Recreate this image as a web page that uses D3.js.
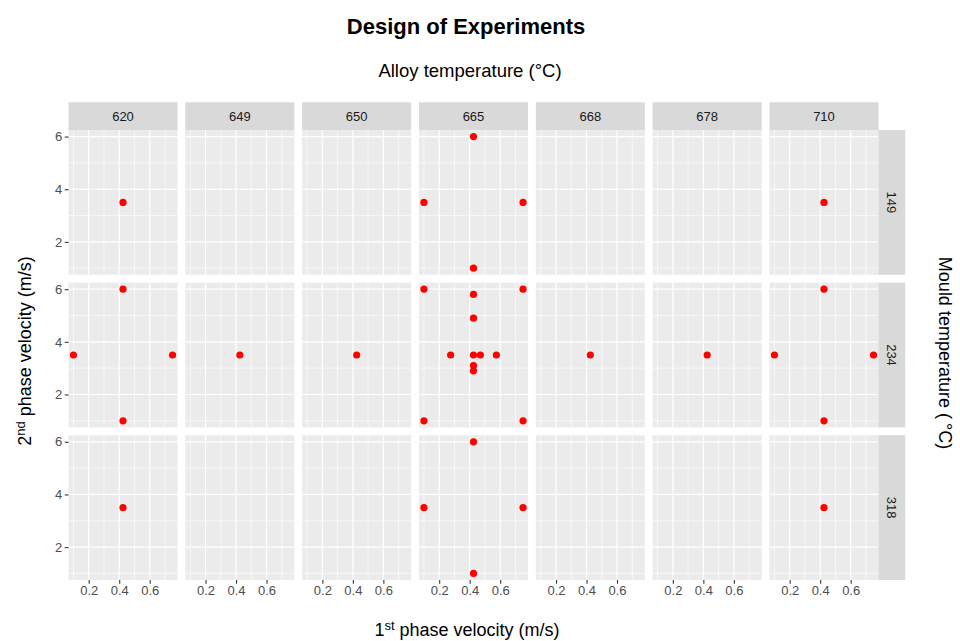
<!DOCTYPE html>
<html>
<head>
<meta charset="utf-8">
<script src="https://cdn.jsdelivr.net/npm/d3@7"></script>
<style>
  html, body { margin: 0; padding: 0; background: #fff; }
  svg { display: block; font-family: "Liberation Sans", Arial, sans-serif; }
</style>
</head>
<body>
<svg id="chart" width="960" height="641"></svg>
<script>
// ---- data ----
const alloyTemps = [620, 649, 650, 665, 668, 678, 710];
const mouldTemps = [149, 234, 318];
const xTicks = [0.2, 0.4, 0.6];
const yTicks = [2, 4, 6];
const xMinor = [0.1, 0.3, 0.5, 0.7];
const yMinor = [1, 3, 5];
// each run: alloy temp, mould temp, 1st phase velocity, 2nd phase velocity
const runAlloy = [620, 620,620,620,620, 620, 649, 650,
                  665,665,665,665,
                  665,665,665,665,665,665,665,665,665,665,665,665,
                  665,665,665,665,
                  668, 678, 710, 710,710,710,710, 710];
const runMould = [149, 234,234,234,234, 318, 234, 234,
                  149,149,149,149,
                  234,234,234,234,234,234,234,234,234,234,234,234,
                  318,318,318,318,
                  234, 234, 149, 234,234,234,234, 318];
const runV1 = [0.425, 0.425,0.1,0.75,0.425, 0.425, 0.425, 0.425,
               0.425,0.1,0.75,0.425,
               0.1,0.75,0.425,0.425,0.275,0.425,0.47,0.575,0.425,0.425,0.1,0.75,
               0.425,0.1,0.75,0.425,
               0.425, 0.425, 0.425, 0.425,0.1,0.75,0.425, 0.425];
const runV2 = [3.5, 6,3.5,3.5,1, 3.5, 3.5, 3.5,
               6,3.5,3.5,1,
               6,6,5.8,4.9,3.5,3.5,3.5,3.5,3.1,2.9,1,1,
               6,3.5,3.5,1,
               3.5, 3.5, 3.5, 6,3.5,3.5,1, 3.5];

const runs = runAlloy.map((a, i) => ({a, m: runMould[i], v1: runV1[i], v2: runV2[i]}));

// ---- layout ----
const svg = d3.select("#chart");
const col = d3.scaleBand().domain(alloyTemps).range([68.5, 878.5]).paddingInner(0.0668).paddingOuter(0);
const row = d3.scaleBand().domain(mouldTemps).range([130, 580]).paddingInner(0.0511).paddingOuter(0);
const pw = col.bandwidth(), ph = row.bandwidth();
const stripH = 27.7, stripW = 26.7;

const xDom = [0.1, 0.75], yDom = [1, 6];
const xe = (xDom[1] - xDom[0]) * 0.05, ye = (yDom[1] - yDom[0]) * 0.05;
const x = d3.scaleLinear().domain([xDom[0] - xe, xDom[1] + xe]).range([0, pw]);
const y = d3.scaleLinear().domain([yDom[0] - ye, yDom[1] + ye]).range([ph, 0]);

const textCol = "#1A1A1A", tickCol = "#4D4D4D";

// panels
alloyTemps.forEach(a => {
  mouldTemps.forEach(m => {
    const g = svg.append("g").attr("transform", `translate(${col(a)},${row(m)})`);
    g.append("rect").attr("width", pw).attr("height", ph).attr("fill", "#EBEBEB");
    g.selectAll(".ymin").data(yMinor).enter().append("line")
      .attr("x1", 0).attr("x2", pw).attr("y1", d => y(d)).attr("y2", d => y(d))
      .attr("stroke", "#fff").attr("stroke-width", 0.6);
    g.selectAll(".xmin").data(xMinor).enter().append("line")
      .attr("y1", 0).attr("y2", ph).attr("x1", d => x(d)).attr("x2", d => x(d))
      .attr("stroke", "#fff").attr("stroke-width", 0.6);
    g.selectAll(".ymaj").data(yTicks).enter().append("line")
      .attr("x1", 0).attr("x2", pw).attr("y1", d => y(d)).attr("y2", d => y(d))
      .attr("stroke", "#fff").attr("stroke-width", 1.2);
    g.selectAll(".xmaj").data(xTicks).enter().append("line")
      .attr("y1", 0).attr("y2", ph).attr("x1", d => x(d)).attr("x2", d => x(d))
      .attr("stroke", "#fff").attr("stroke-width", 1.2);
    g.selectAll("circle").data(runs.filter(r => r.a === a && r.m === m)).enter().append("circle")
      .attr("cx", d => x(d.v1)).attr("cy", d => y(d.v2)).attr("r", 3.6).attr("fill", "#FF0000");
  });
});

// top strips
alloyTemps.forEach(a => {
  const g = svg.append("g").attr("transform", `translate(${col(a)},${row(mouldTemps[0]) - stripH})`);
  g.append("rect").attr("width", pw).attr("height", stripH).attr("fill", "#D9D9D9");
  g.append("text").attr("x", pw / 2).attr("y", stripH / 2).attr("dy", "0.35em")
    .attr("text-anchor", "middle").attr("font-size", 13).attr("fill", textCol).text(a);
});
// right strips
const rightX = col(alloyTemps[alloyTemps.length - 1]) + pw;
mouldTemps.forEach(m => {
  const g = svg.append("g").attr("transform", `translate(${rightX},${row(m)})`);
  g.append("rect").attr("width", stripW).attr("height", ph).attr("fill", "#D9D9D9");
  g.append("text").attr("transform", `translate(${stripW / 2},${ph / 2}) rotate(90)`)
    .attr("dy", "0.35em").attr("text-anchor", "middle").attr("font-size", 13).attr("fill", textCol).text(m);
});

// y axes (left column)
mouldTemps.forEach(m => {
  const ax = d3.axisLeft(y).tickValues(yTicks).tickSize(3.7).tickPadding(2.5).tickFormat(d3.format("d"));
  const g = svg.append("g").attr("transform", `translate(${col(alloyTemps[0])},${row(m)})`).call(ax);
  g.select(".domain").remove();
  g.selectAll(".tick line").attr("stroke", "#333333").attr("stroke-width", 1.1);
  g.selectAll(".tick text").attr("fill", tickCol).attr("font-size", 13).attr("font-family", "Liberation Sans, Arial, sans-serif");
});
// x axes (bottom row)
alloyTemps.forEach(a => {
  const ax = d3.axisBottom(x).tickValues(xTicks).tickSize(3.7).tickPadding(2.5).tickFormat(d3.format(".1f"));
  const g = svg.append("g").attr("transform", `translate(${col(a)},${row(mouldTemps[2]) + ph})`).call(ax);
  g.select(".domain").remove();
  g.selectAll(".tick line").attr("stroke", "#333333").attr("stroke-width", 1.1);
  g.selectAll(".tick text").attr("fill", tickCol).attr("font-size", 13).attr("font-family", "Liberation Sans, Arial, sans-serif");
});

// titles
svg.append("text").attr("x", 466).attr("y", 34).attr("text-anchor", "middle")
  .attr("font-size", 22).attr("font-weight", "bold").attr("fill", "#000").text("Design of Experiments");
svg.append("text").attr("x", 470).attr("y", 77).attr("text-anchor", "middle")
  .attr("font-size", 18.5).attr("fill", "#000").text("Alloy temperature (°C)");

// bottom x title with superscript
const xt = svg.append("text").attr("x", 467).attr("y", 636).attr("text-anchor", "middle")
  .attr("font-size", 18).attr("fill", "#000");
xt.append("tspan").text("1");
xt.append("tspan").attr("font-size", 13).attr("dy", -6).text("st");
xt.append("tspan").attr("dy", 6).text(" phase velocity (m/s)");

// left y title with superscript
const yt = svg.append("text").attr("transform", "translate(31,351) rotate(-90)").attr("text-anchor", "middle")
  .attr("font-size", 18).attr("fill", "#000");
yt.append("tspan").text("2");
yt.append("tspan").attr("font-size", 13).attr("dy", -6).text("nd");
yt.append("tspan").attr("dy", 6).text(" phase velocity (m/s)");

// right title
const rt = svg.append("text").attr("transform", "translate(939,353) rotate(90)").attr("text-anchor", "middle")
  .attr("font-size", 18).attr("fill", "#000");
rt.append("tspan").text("Mould temperature (");
rt.append("tspan").attr("dx", 4).text("°C)");
</script>
</body>
</html>
